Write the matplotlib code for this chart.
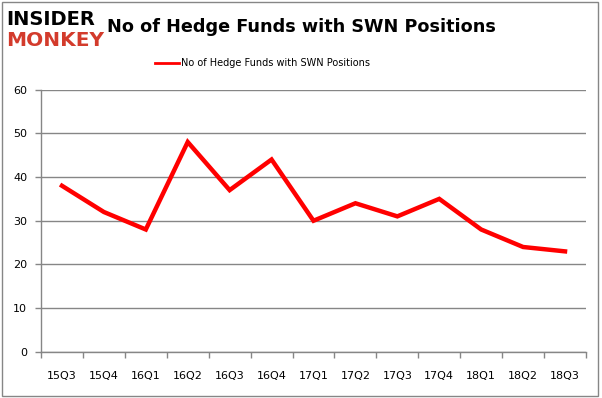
import matplotlib.pyplot as plt
import numpy as np

quarters = ["15Q3", "15Q4", "16Q1", "16Q2", "16Q3", "16Q4", "17Q1",
            "17Q2", "17Q3", "17Q4", "18Q1", "18Q2", "18Q3"]
funds = [38, 32, 28, 48, 37, 44, 30, 34, 31, 35, 28, 24, 23]
y_ticks = [0, 10, 20, 30, 40, 50, 60]

grey = "#868686"

fig = plt.figure(figsize=(6.02, 3.98), dpi=100)
ax = fig.add_axes([0.0681, 0.1156, 0.9053, 0.6595])

x = np.arange(len(quarters))
ax.plot(x, funds, color="#ff0000", lw=3.2, solid_joinstyle="miter",
        label="No of Hedge Funds with SWN Positions", zorder=3)

ax.set_xlim(-0.5, len(quarters) - 0.5)
ax.set_ylim(0, 60)
ax.set_yticks(y_ticks)
ax.set_xticks(x)
ax.set_xticklabels(quarters)
# ticks between categories, like excel
ax.set_xticks(np.arange(len(quarters) + 1) - 0.5, minor=True)
ax.tick_params(axis="x", which="major", length=0, pad=14, labelsize=8)
ax.tick_params(axis="x", which="minor", length=4, color=grey, width=1)
ax.tick_params(axis="y", length=4, color=grey, width=1, labelsize=8, pad=6)

ax.grid(axis="y", color=grey, lw=1)
for s in ["top", "right"]:
    ax.spines[s].set_visible(False)
for s in ["left", "bottom"]:
    ax.spines[s].set_color(grey)
    ax.spines[s].set_linewidth(1)

leg = ax.legend(loc="center", bbox_to_anchor=(0.407, 1.10), frameon=False,
                fontsize=7, handlelength=2.4, handletextpad=0.3)
leg.get_lines()[0].set_linewidth(2)

fig.text(0.5, 0.932, "No of Hedge Funds with SWN Positions", ha="center",
         va="center", fontsize=12.7, fontweight="bold")

# logo
fig.text(0.01, 0.95, "INSIDER", color="black", fontsize=14, fontweight="heavy",
         va="center", ha="left")
fig.text(0.01, 0.897, "MONKEY", color="#d33b2c", fontsize=14.5, fontweight="heavy",
         va="center", ha="left")

# outer border
fig.patches.append(plt.Rectangle((0.004, 0.005), 0.99, 0.99, transform=fig.transFigure,
                                 fill=False, edgecolor=grey, lw=1))

fig.savefig("out.png", dpi=100)
